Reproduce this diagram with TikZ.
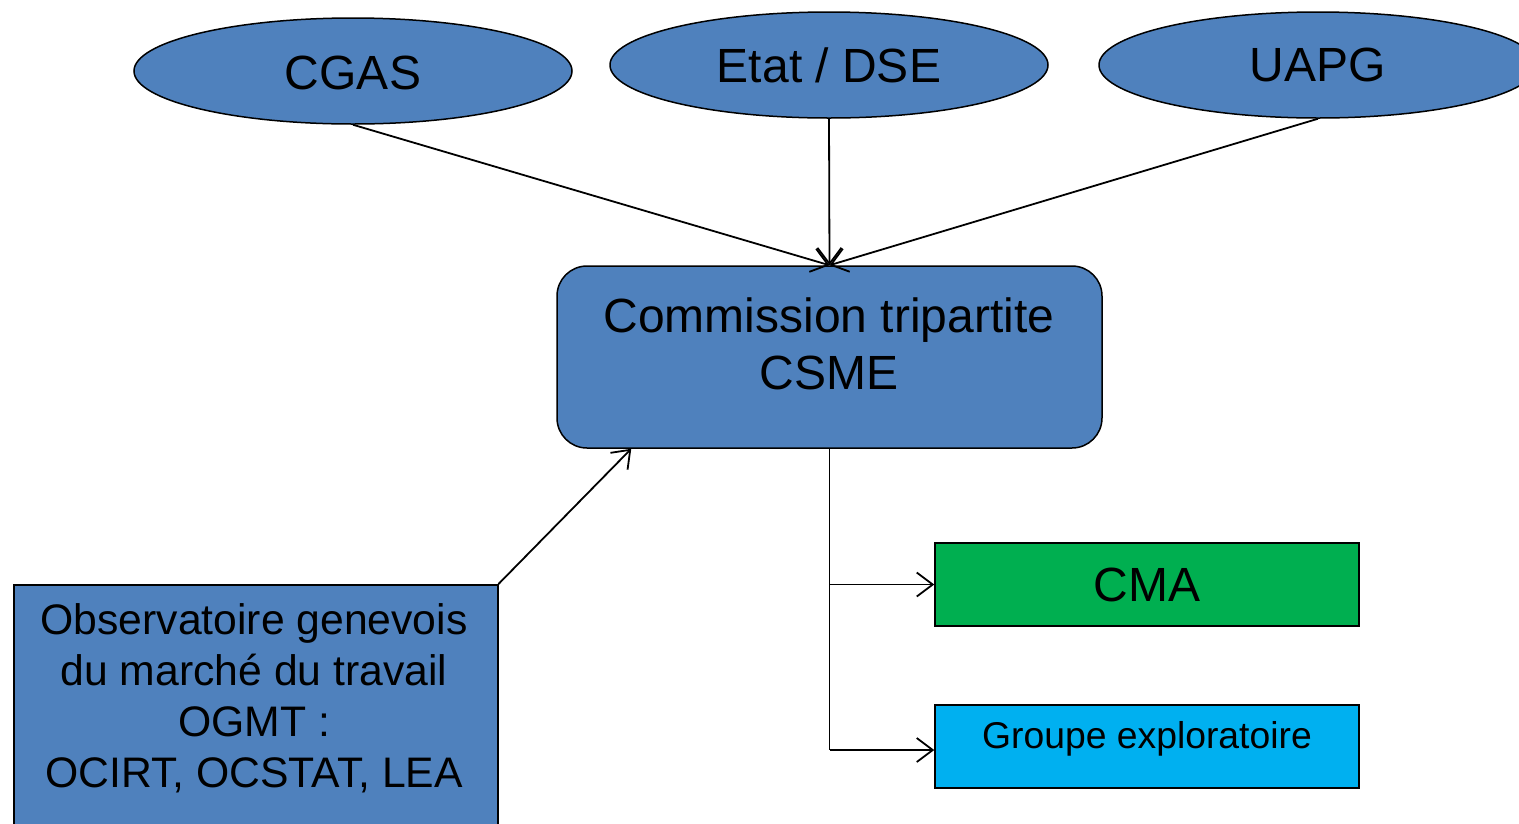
\documentclass[tikz,border=0pt]{standalone}
\usepackage{fontspec}
\setmainfont{Liberation Sans}
\usetikzlibrary{shapes.geometric,arrows.meta}
\definecolor{boxblue}{HTML}{4F81BD}
\definecolor{cmagreen}{HTML}{00AF50}
\definecolor{grpcyan}{HTML}{00B0F0}
\begin{document}
\begin{tikzpicture}[x=1pt,y=-1pt,
  oval/.style={ellipse,draw=black,line width=1.5pt,fill=boxblue,minimum width=438pt,minimum height=106pt,inner sep=0pt,font=\fontsize{48}{56}\selectfont},
  flat/.style={rectangle,draw=black,line width=1.5pt,minimum width=424pt,minimum height=83pt,inner sep=0pt},
  conn/.style={line width=1.8pt,-{Straight Barb[length=16pt,width=24pt,line width=1.8pt]}},
  plain/.style={line width=1.8pt}]
\useasboundingbox (0,0) rectangle (1519,823);
\node[oval] (cgas) at (353,71) {};
\node (cgastext) at (353,73) {\fontsize{48}{56}\selectfont CGAS};
\node[oval] (etat) at (829,65) {Etat / DSE};
\node[oval] (uapg) at (1318,65) {UAPG};
\node[rectangle,rounded corners=30pt,draw=black,line width=1.5pt,fill=boxblue,minimum width=545pt,minimum height=182pt,inner sep=0pt] (comm) at (829.5,357) {};
\node[align=center,font=\fontsize{48}{57}\selectfont] (commtext) at (829,344) {Commission tripartite\\CSME};
\node[flat,fill=cmagreen,font=\fontsize{48}{56}\selectfont] (cma) at (1147,584.5) {CMA};
\node[flat,fill=grpcyan] (grp) at (1147,746.5) {};
\node[font=\fontsize{37.3}{46}\selectfont] (grptext) at (1147,739) {Groupe exploratoire};
\node[rectangle,draw=black,line width=1.5pt,fill=boxblue,minimum width=484pt,minimum height=250pt,inner sep=0pt,anchor=north west] (obs) at (13,584) {};
\node[align=center,font=\fontsize{42.7}{51}\selectfont] (obstext) at (254,698) {Observatoire genevois\\du marché du travail\\OGMT :\\OCIRT, OCSTAT, LEA};
\coordinate (grpin) at ([yshift=-3.5pt]grp.west);
\draw[conn] (cgas.south) -- (comm.north);
\draw[conn] (etat.south) -- (comm.north);
\draw[conn] (uapg.south) -- (comm.north);
\draw[conn] (obs.north east) -- ([xshift=75pt]comm.south west);
\draw[plain] (comm.south) -- (comm.south |- grpin);
\draw[conn] (comm.south |- cma.west) -- (cma.west);
\draw[conn] (comm.south |- grpin) -- (grpin);
\end{tikzpicture}
\end{document}
